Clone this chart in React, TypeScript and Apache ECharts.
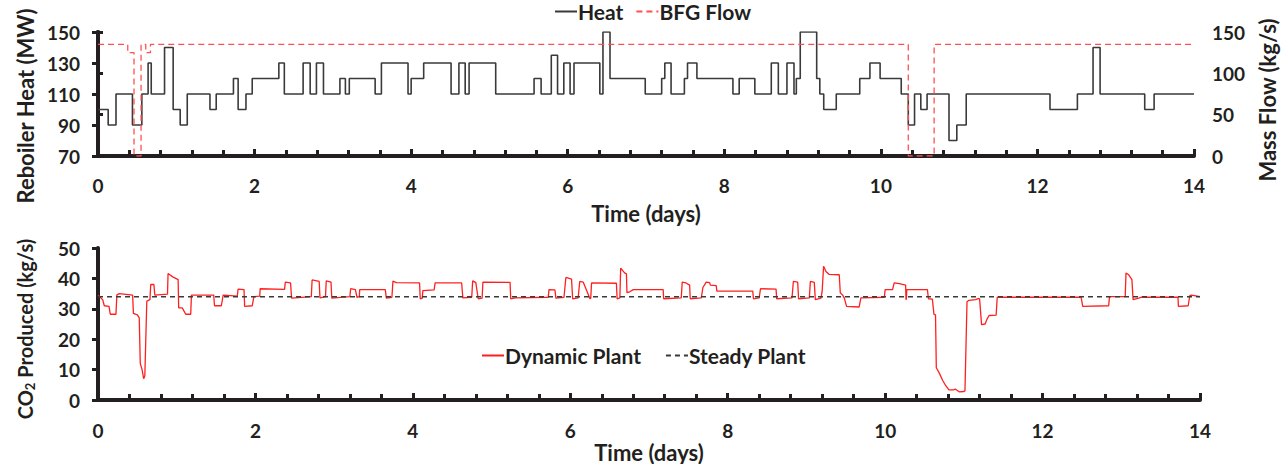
import React, { useEffect, useRef } from "react";
import * as echarts from "echarts";

// Reboiler heat duty (MW), step changes: [time in days, level from that time on]
const heatSteps: [number, number][] = [
  [0, 100], [0.13, 90], [0.23, 110], [0.44, 90], [0.56, 110], [0.64, 130], [0.68, 110],
  [0.85, 140], [0.96, 100], [1.05, 90], [1.14, 110], [1.43, 100], [1.51, 110], [1.73, 120],
  [1.79, 100], [1.89, 110], [1.97, 120], [2.31, 130], [2.38, 110], [2.62, 130], [2.71, 110],
  [2.79, 130], [2.88, 110], [3.09, 120], [3.16, 110], [3.21, 120], [3.54, 110], [3.62, 130],
  [3.96, 110], [4.0, 120], [4.16, 130], [4.51, 110], [4.61, 130], [4.69, 110], [4.74, 130],
  [5.08, 110], [5.57, 120], [5.66, 110], [5.79, 135], [5.87, 110], [5.95, 130], [6.03, 110],
  [6.08, 130], [6.41, 110], [6.45, 150], [6.54, 120], [6.99, 110], [7.2, 120], [7.24, 130],
  [7.32, 110], [7.49, 120], [7.53, 130], [7.65, 120], [8.11, 110], [8.19, 120], [8.39, 110],
  [8.6, 130], [8.69, 110], [8.8, 130], [8.89, 110], [8.92, 120], [8.97, 150], [9.18, 120],
  [9.22, 110], [9.27, 100], [9.43, 110], [9.73, 120], [9.86, 130], [9.99, 120], [10.26, 110],
  [10.35, 90], [10.43, 110], [10.51, 100], [10.59, 110], [10.87, 80], [10.97, 90], [11.09, 110],
  [12.16, 100], [12.51, 110], [12.71, 140], [12.8, 110], [13.37, 100], [13.49, 110], [14, 110],
];

// Blast furnace gas mass flow (kg/s), step changes
const bfgSteps: [number, number][] = [
  [0, 135], [0.38, 125], [0.46, 0], [0.55, 135], [0.61, 125], [0.67, 135],
  [10.35, 0], [10.68, 135], [14, 135],
];

// CO2 produced by the dynamically operated plant (kg/s)
const co2Dynamic: [number, number][] = [
  [0, 34.5], [0.06, 33], [0.08, 31], [0.14, 30.8], [0.156, 28.2], [0.228, 28.2], [0.24, 34.6],
  [0.27, 35], [0.44, 34.5], [0.45, 28.5], [0.5, 28], [0.524, 27], [0.537, 12], [0.56, 10],
  [0.58, 7], [0.595, 8], [0.62, 32.5], [0.66, 33], [0.67, 38], [0.71, 38], [0.722, 34.5],
  [0.883, 34.8], [0.89, 41.6], [0.95, 40.5], [1.018, 39.6], [1.025, 30.3], [1.07, 30.3],
  [1.115, 28.2], [1.178, 28.2], [1.187, 34.5], [1.47, 34.5], [1.48, 31], [1.567, 31],
  [1.59, 34.5], [1.77, 34.2], [1.78, 36.5], [1.855, 36.3], [1.863, 30.8], [1.96, 31],
  [1.98, 34], [2.055, 34.2], [2.06, 36.6], [2.37, 36.4], [2.38, 38.8], [2.446, 38.5],
  [2.46, 33.5], [2.71, 34], [2.72, 39.5], [2.81, 39], [2.82, 33.6], [2.89, 34], [2.9, 39.2],
  [2.96, 38.8], [2.97, 33.5], [3.2, 34], [3.21, 36.6], [3.27, 36.3], [3.29, 33.8], [3.32, 34],
  [3.325, 36.3], [3.65, 36.3], [3.663, 33.5], [3.734, 33.8], [3.747, 39.1], [3.79, 38.6],
  [4.085, 38.5], [4.094, 33.3], [4.12, 33.5], [4.127, 36], [4.27, 36.2], [4.283, 38.5],
  [4.62, 38.5], [4.635, 33.6], [4.748, 33.8], [4.76, 39.2], [4.8, 38.6], [4.83, 33.3],
  [4.88, 33.5], [4.89, 38.8], [5.235, 38.7], [5.243, 33.3], [5.3, 33.6], [5.72, 33.8],
  [5.73, 36.3], [5.805, 36.2], [5.817, 33.5], [5.92, 33.8], [5.944, 40.3], [6.016, 39.8],
  [6.03, 33.3], [6.1, 33.6], [6.12, 39], [6.164, 38.8], [6.25, 33.3], [6.26, 33.5], [6.27, 38.5],
  [6.586, 38.4], [6.595, 33.3], [6.63, 33.6], [6.64, 43.4], [6.69, 41.8], [6.713, 41.5],
  [6.72, 35.3], [6.755, 35.6], [6.8, 36.3], [7.18, 36.3], [7.186, 33.3], [7.41, 33.6],
  [7.422, 38.8], [7.47, 38.5], [7.516, 37.8], [7.524, 33.3], [7.664, 33.6], [7.685, 37],
  [7.727, 38.8], [7.77, 38.6], [7.78, 37.8], [7.854, 37.6], [7.862, 35.8], [8.318, 35.8],
  [8.327, 33.3], [8.4, 33.6], [8.416, 36.6], [8.614, 36.5], [8.622, 33.3], [8.817, 33.6],
  [8.834, 39], [8.889, 38.8], [8.9, 33.3], [9.037, 33.6], [9.05, 39], [9.1, 38.7], [9.113, 33],
  [9.185, 33.5], [9.2, 35.8], [9.218, 44], [9.248, 42.3], [9.29, 41.3], [9.417, 41.2],
  [9.43, 35.3], [9.46, 34.5], [9.48, 33.6], [9.51, 30.8], [9.67, 30.6], [9.692, 33.6],
  [9.99, 33.8], [10.0, 36.3], [10.094, 36.3], [10.115, 38.5], [10.18, 38.3], [10.26, 37.8],
  [10.265, 33], [10.27, 33.3], [10.275, 36.3], [10.537, 36.3], [10.55, 33.3], [10.6, 33.2],
  [10.62, 28.2], [10.64, 28], [10.65, 10.6], [10.685, 9], [10.73, 6.5], [10.77, 4.7],
  [10.81, 3.3], [10.87, 3.3], [10.89, 3.6], [10.94, 2.7], [11.0, 2.8], [11.014, 3],
  [11.04, 32.3], [11.065, 32.8], [11.15, 33], [11.19, 33.4], [11.2, 33.2], [11.225, 24.8],
  [11.27, 25], [11.296, 26.7], [11.32, 27.8], [11.41, 27.9], [11.424, 33.8], [12.49, 33.8],
  [12.51, 30.8], [12.84, 31], [12.85, 34], [13.05, 34], [13.06, 41.8], [13.09, 41.3],
  [13.135, 39.6], [13.15, 33], [13.22, 33.5], [13.26, 33.8], [13.72, 33.8], [13.726, 30.8],
  [13.85, 31], [13.87, 34.3], [13.89, 34.5], [14, 34],
];

// CO2 produced by the plant at steady operation (kg/s)
const co2Steady = 34;

const timeRange = [0, 14];
const heatTicks = [70, 90, 110, 130, 150];

const ink = "#231f20";
const font = "Lato, 'Open Sans', sans-serif";

const boldText = (size: number) => ({
  fontFamily: font,
  fontWeight: "bold" as const,
  fontSize: size,
  color: ink,
});

// Main time axis: thick line, inward major ticks and minor ticks, labels and name
function timeAxis(gridIndex: number, labelMargin: number, nameGap: number) {
  return {
    type: "value",
    gridIndex,
    min: timeRange[0],
    max: timeRange[1],
    interval: 2,
    name: "Time (days)",
    nameLocation: "middle",
    nameGap,
    nameTextStyle: boldText(22),
    axisLine: { show: true, onZero: false, lineStyle: { color: ink, width: 4 } },
    axisTick: { show: true, inside: true, length: 7, lineStyle: { color: ink, width: 3 } },
    minorTick: { show: true, splitNumber: 5, length: 6, lineStyle: { color: ink, width: 3 } },
    axisLabel: { ...boldText(19), margin: labelMargin },
    splitLine: { show: false },
    minorSplitLine: { show: false },
  };
}

// Companion axis that only adds the outward half of the major ticks
function timeTickAxis(gridIndex: number) {
  return {
    type: "value",
    gridIndex,
    min: timeRange[0],
    max: timeRange[1],
    interval: 2,
    axisLine: { show: false },
    axisTick: { show: true, inside: false, length: 6, lineStyle: { color: ink, width: 3 } },
    axisLabel: { show: false },
    splitLine: { show: false },
  };
}

const legendBase = {
  itemWidth: 22,
  itemHeight: 14,
  itemStyle: { opacity: 0 },
  textStyle: { ...boldText(21), padding: [0, 0, 0, -4] },
};

const option = {
  animation: false,
  backgroundColor: "#ffffff",
  grid: [
    { left: 98, right: 86, top: 32, height: 124 },
    { left: 98, right: 86, top: 248, height: 152 },
  ],
  legend: [
    { ...legendBase, data: ["Heat", "BFG Flow"], left: 549, top: -4, itemGap: 12 },
    { ...legendBase, data: ["Dynamic Plant", "Steady Plant"], left: 476, top: 340, itemGap: 24 },
  ],
  xAxis: [timeAxis(0, 20, 46), timeTickAxis(0), timeAxis(1, 21, 41), timeTickAxis(1)],
  yAxis: [
    {
      type: "value",
      gridIndex: 0,
      position: "left",
      min: 70,
      max: 150,
      name: "Reboiler Heat (MW)",
      nameLocation: "middle",
      nameRotate: 90,
      nameGap: 58,
      nameTextStyle: { ...boldText(22), padding: [0, 24, 0, 0] },
      axisLine: { show: true, lineStyle: { color: ink, width: 4 } },
      axisTick: { show: true, length: 6, customValues: heatTicks, lineStyle: { color: ink, width: 3 } },
      axisLabel: { ...boldText(19), margin: 18, customValues: heatTicks },
      splitLine: { show: false },
    },
    {
      type: "value",
      gridIndex: 0,
      position: "right",
      min: 0,
      max: 150,
      interval: 50,
      name: "Mass Flow (kg/s)",
      nameLocation: "middle",
      nameRotate: 90,
      nameGap: 60,
      nameTextStyle: { ...boldText(22), padding: [0, 12, 0, 0] },
      axisLine: { show: true, lineStyle: { color: ink, width: 4 } },
      axisTick: { show: true, length: 5, lineStyle: { color: ink, width: 3 } },
      axisLabel: { ...boldText(19), margin: 18 },
      splitLine: { show: false },
    },
    {
      type: "value",
      gridIndex: 1,
      position: "left",
      min: 0,
      max: 50,
      interval: 10,
      name: "CO{sub|2} Produced (kg/s)",
      nameLocation: "middle",
      nameRotate: 90,
      nameGap: 62,
      nameTextStyle: {
        ...boldText(20),
        padding: [0, 10, 0, 0],
        rich: { sub: { ...boldText(13), verticalAlign: "bottom", padding: [9, 0, 0, 0] } },
      },
      axisLine: { show: true, lineStyle: { color: ink, width: 4 } },
      axisTick: { show: true, length: 6, lineStyle: { color: ink, width: 3 } },
      axisLabel: { ...boldText(19), margin: 18 },
      splitLine: { show: false },
    },
  ],
  series: [
    {
      name: "Heat",
      type: "line",
      xAxisIndex: 0,
      yAxisIndex: 0,
      step: "end",
      symbol: "none",
      color: "#3a3a3a",
      lineStyle: { color: "#3a3a3a", width: 1.6 },
      data: heatSteps,
    },
    {
      name: "BFG Flow",
      type: "line",
      xAxisIndex: 0,
      yAxisIndex: 1,
      step: "end",
      symbol: "none",
      color: "#ff5050",
      lineStyle: { color: "#ff5050", width: 1.3, type: [6, 4] },
      data: bfgSteps,
    },
    {
      name: "Dynamic Plant",
      type: "line",
      xAxisIndex: 2,
      yAxisIndex: 2,
      symbol: "none",
      color: "#ff1f1f",
      lineStyle: { color: "#ff1f1f", width: 1.3 },
      data: co2Dynamic,
    },
    {
      name: "Steady Plant",
      type: "line",
      xAxisIndex: 2,
      yAxisIndex: 2,
      symbol: "none",
      color: "#3a3a3a",
      lineStyle: { color: "#3a3a3a", width: 1.5, type: [5, 4] },
      data: [
        [timeRange[0], co2Steady],
        [timeRange[1], co2Steady],
      ],
    },
  ],
};

export default function App() {
  const ref = useRef<HTMLDivElement>(null);

  useEffect(() => {
    if (!ref.current) return;
    const chart = echarts.init(ref.current, null, { renderer: "svg" });
    chart.setOption(option as any);
    return () => chart.dispose();
  }, []);

  return (
    <div
      ref={ref}
      style={{ position: "fixed", left: 0, top: 0, width: 1286, height: 464, background: "#fff" }}
    />
  );
}
